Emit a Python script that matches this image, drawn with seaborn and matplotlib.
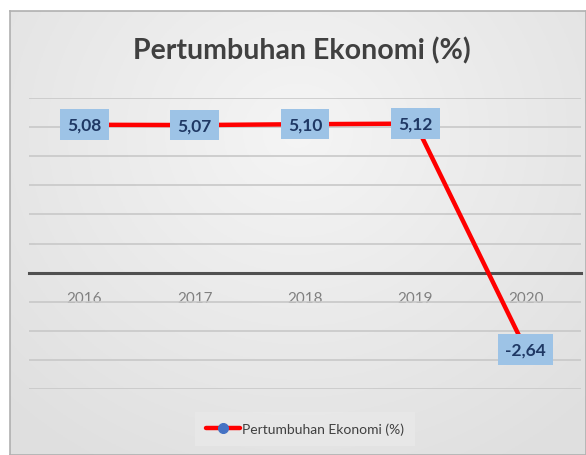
import numpy as np
import matplotlib
matplotlib.use("Agg")
import matplotlib.pyplot as plt
import pandas as pd
import seaborn as sns

years = ["2016", "2017", "2018", "2019", "2020"]
growth = [5.08, 5.07, 5.10, 5.12, -2.64]
labels = ["5,08", "5,07", "5,10", "5,12", "-2,64"]
series_name = "Pertumbuhan Ekonomi (%)"

sns.set_theme(style="white")
plt.rcParams["font.family"] = ["Lato", "DejaVu Sans"]

df = pd.DataFrame({"Tahun": years, series_name: growth})

fig = plt.figure(figsize=(5.86, 4.56), dpi=100)
fig.patch.set_facecolor("white")

# chart area background: soft radial gradient, grey border
bg = fig.add_axes([10 / 586, 0, 1 - 10 / 586, 1 - 12 / 456], zorder=-10)
yy, xx = np.mgrid[-1:1:200j, -1:1:260j]
r = np.sqrt((xx * 0.95) ** 2 + ((yy + 0.45) * 0.8) ** 2)
shade = 0.96 - 0.085 * np.clip(r, 0, 1.4) / 1.4
bg.imshow(np.dstack([shade] * 3), aspect="auto", extent=[0, 1, 0, 1])
bg.set_xticks([])
bg.set_yticks([])
for s in bg.spines.values():
    s.set_color("#b0b0b0")
    s.set_linewidth(1.2)

ax = fig.add_axes([29 / 586, 1 - 390 / 456, 552 / 586, 291 / 456])
ax.patch.set_alpha(0)

sns.lineplot(data=df, x="Tahun", y=series_name, ax=ax, color="#ff0000",
             linewidth=3.2, marker="o", markersize=9,
             markerfacecolor="#4472c4", markeredgecolor="#4472c4",
             label=series_name, zorder=3)

ax.set_xlim(-0.5, 4.5)
ax.set_ylim(-4, 6)
ax.set_yticks(range(-4, 7))
ax.set_yticklabels([])
ax.yaxis.grid(True, color="#c8c8c8", linewidth=1.2)
ax.set_axisbelow(True)
for side in ["left", "right", "top"]:
    ax.spines[side].set_visible(False)
ax.spines["bottom"].set_position(("data", 0))
ax.spines["bottom"].set_color("#505050")
ax.spines["bottom"].set_linewidth(2.2)
ax.tick_params(axis="x", length=0, pad=13, labelsize=11, labelcolor="#808080")
ax.tick_params(axis="y", length=0)
ax.set_xlabel("")
ax.set_ylabel("")

for i, (v, t) in enumerate(zip(growth, labels)):
    ax.text(i, v, t, ha="center", va="center", fontsize=12.5,
            fontweight="bold", color="#1f3864", zorder=5,
            bbox=dict(boxstyle="square,pad=0.42", facecolor="#9dc3e6",
                      edgecolor="none"))

fig.text(0.515, 0.888, "Pertumbuhan Ekonomi (%)", ha="center", va="center",
         fontsize=20.5, fontweight="bold", color="#404040")

ax.legend(loc="center", bbox_to_anchor=(0.5, (390 - 430) / 291),
          frameon=True, facecolor="#e9e9e9", edgecolor="none", fancybox=False,
          fontsize=10, handlelength=2.4, handletextpad=0.15, borderpad=0.8,
          borderaxespad=0, labelcolor="#404040", markerscale=0.8)

fig.savefig("out.png", dpi=100)
